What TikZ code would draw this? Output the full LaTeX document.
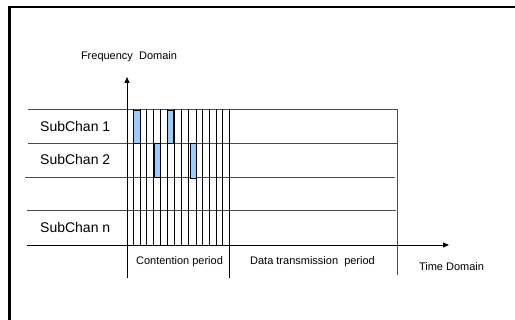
\documentclass[tikz,border=0pt]{standalone}
\usepackage{fontspec}
\setmainfont{Liberation Sans}
\usetikzlibrary{arrows.meta}
\definecolor{slotblue}{RGB}{153,204,255}
\begin{document}
\begin{tikzpicture}[x=1pt,y=-1pt,
  frame/.style={line width=2.4pt,black},
  hline/.style={line width=0.7pt,black!70},
  vline/.style={line width=0.7pt,black},
  axis/.style={line width=0.9pt,black,-{Triangle[length=6pt,width=5pt]}},
  slot/.style={draw=black,line width=0.9pt,fill=slotblue},
  chan/.style={font=\fontsize{14}{16}\selectfont,anchor=west,inner sep=0pt},
  lbl/.style={font=\fontsize{11}{13}\selectfont,inner sep=0pt}]
\useasboundingbox (0,0) rectangle (515,320);
\fill[white] (0,0) rectangle (515,320);
% frame
\draw[frame] (9.5,322) -- (9.5,7) -- (517,7);
% horizontal channel lines
\foreach \y/\a/\b in {109/28/397,143/28/397,177/25/395,210/27/396}
  \draw[hline] (\a,\y) -- (\b,\y);
% contention slot lines
\foreach \x in {133.3,140,146.7,153.7,160.7,167.7,174.3,181.7,188.7,196,202.7,209,216,222.7}
  \draw[vline] (\x,109) -- (\x,245);
\draw[vline] (229.3,109) -- (229.3,278);
\draw[hline] (397,109) -- (397,275);
% blue slots
\draw[slot] (133.3,110) rectangle (140,143);
\draw[slot] (167.7,110) rectangle (173.8,143);
\draw[slot] (154,143) rectangle (160.4,177);
\draw[slot] (190,143) rectangle (196,178);
% axes
\coordinate (o) at (127,245);
\coordinate (ybot) at (127,278);
\coordinate (ytop) at (127,77);
\coordinate (xleft) at (27,245);
\coordinate (xright) at (449,245);
\draw[axis] (ybot) -- (ytop);
\draw[axis] (xleft) -- (xright);
% labels
\node[lbl] (fd) at (129,57) {Frequency\ \ Domain};
\node[chan] (s1) at (40,126) {SubChan 1};
\node[chan] (s2) at (40,159) {SubChan 2};
\node[chan] (sn) at (40,227) {SubChan n};
\node[lbl] (cp) at (179.5,262) {Contention period};
\node[lbl] (dp) at (312.5,262) {Data transmission\ \ period};
\node[lbl] (td) at (451.5,266.5) {Time Domain};
\end{tikzpicture}
\end{document}
